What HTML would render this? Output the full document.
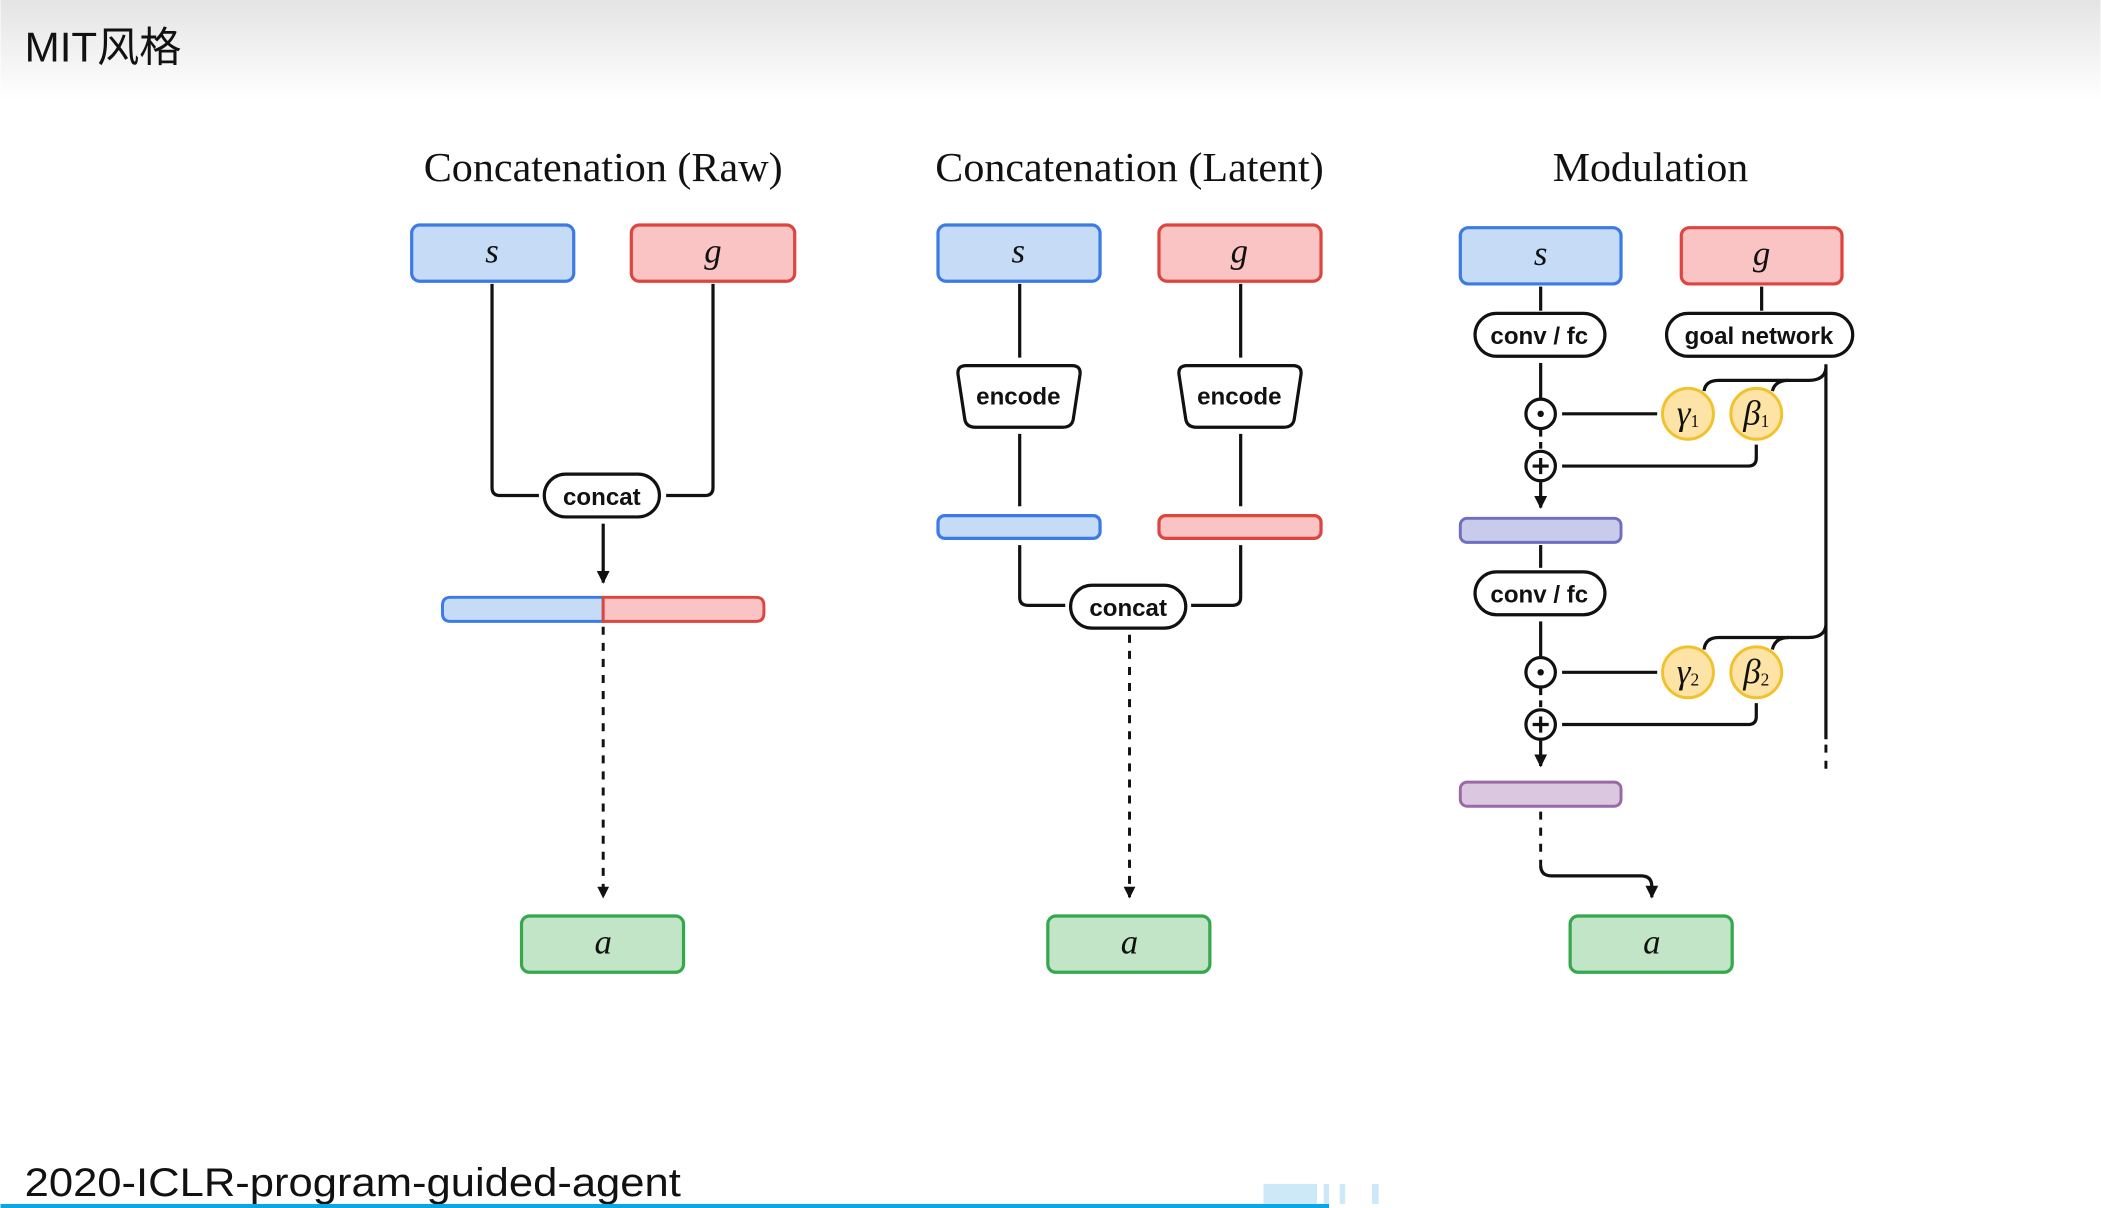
<!DOCTYPE html>
<html><head><meta charset="utf-8"><style>
html,body{margin:0;padding:0;background:#fff;width:2101px;height:1208px;overflow:hidden}
svg{display:block}
.t{font-family:"Liberation Serif",serif;font-size:31px;fill:#111;text-anchor:middle}
.v{font-family:"Liberation Serif",serif;font-style:italic;font-size:26px;fill:#111;text-anchor:middle}
.l{font-family:"Liberation Sans",sans-serif;font-size:18px;font-weight:bold;fill:#111;text-anchor:middle}
.k{fill:none;stroke:#111;stroke-width:2.4}
.d{fill:none;stroke:#111;stroke-width:2.2;stroke-dasharray:6,6}
.bs{fill:#c5dbf6;stroke:#3c7be6;stroke-width:2.4}
.rs{fill:#f9c4c3;stroke:#df453f;stroke-width:2.4}
.gs{fill:#c2e4c7;stroke:#35a84d;stroke-width:2.4}
.ys{fill:#fde3a6;stroke:#f1c22c;stroke-width:2.2}
.pill{fill:#fff;stroke:#111;stroke-width:2.4}
</style></head><body>
<svg width="2101" height="1208" viewBox="0 0 1568 902" xmlns="http://www.w3.org/2000/svg">
<defs>
<linearGradient id="hd" x1="0" y1="0" x2="0" y2="1"><stop offset="0" stop-color="#e4e4e4"/><stop offset="1" stop-color="#ffffff"/></linearGradient>
<marker id="ar" viewBox="0 0 10 10" refX="9" refY="5" markerWidth="4" markerHeight="4" orient="auto"><path d="M0,0 L10,5 L0,10z" fill="#111"/></marker>
</defs>
<rect x="0" y="0" width="1568" height="75" fill="url(#hd)"/>
<text x="18" y="46" font-family="Liberation Sans,'Noto Sans CJK SC',sans-serif" font-size="31" fill="#111" textLength="117" lengthAdjust="spacingAndGlyphs">MIT风格</text>

<text class="t" x="450" y="135" textLength="268" lengthAdjust="spacingAndGlyphs">Concatenation (Raw)</text>
<text class="t" x="843" y="135" textLength="290" lengthAdjust="spacingAndGlyphs">Concatenation (Latent)</text>
<text class="t" x="1232" y="135" textLength="146" lengthAdjust="spacingAndGlyphs">Modulation</text>

<!-- Panel 1 -->
<rect class="bs" x="307" y="168" width="121" height="42" rx="6"/><text class="v" x="367" y="196">s</text>
<rect class="rs" x="471" y="168" width="122" height="42" rx="6"/><text class="v" x="532" y="196">g</text>
<path class="k" d="M367,212 V364 Q367,370 373,370 H402"/>
<path class="k" d="M532,212 V364 Q532,370 526,370 H497"/>
<rect class="pill" x="406" y="354" width="86" height="32" rx="16"/><text class="l" x="449" y="377">concat</text>
<line class="k" x1="450" y1="391" x2="450" y2="435" marker-end="url(#ar)"/>
<path d="M336,446 H450 V464 H336 Q330,464 330,458 V452 Q330,446 336,446z" fill="#c5dbf6" stroke="#3c7be6" stroke-width="2.2"/>
<path d="M450,446 H564 Q570,446 570,452 V458 Q570,464 564,464 H450z" fill="#f9c4c3" stroke="#df453f" stroke-width="2.2"/>
<line class="d" x1="450" y1="468" x2="450" y2="670" marker-end="url(#ar)"/>
<rect class="gs" x="389" y="684" width="121" height="42" rx="6"/><text class="v" x="450" y="712">a</text>

<!-- Panel 2 -->
<rect class="bs" x="700" y="168" width="121" height="42" rx="6"/><text class="v" x="760" y="196">s</text>
<rect class="rs" x="865" y="168" width="121" height="42" rx="6"/><text class="v" x="925" y="196">g</text>
<line class="k" x1="761" y1="212" x2="761" y2="267"/>
<line class="k" x1="926" y1="212" x2="926" y2="267"/>
<path class="pill" d="M721,273 H800 Q807,273 806,280 L801,313 Q800,319 793,319 H728 Q721,319 720,313 L715,280 Q714,273 721,273z"/>
<text class="l" x="760" y="302">encode</text>
<path class="pill" d="M886,273 H965 Q972,273 971,280 L966,313 Q965,319 958,319 H893 Q886,319 885,313 L880,280 Q879,273 886,273z"/>
<text class="l" x="925" y="302">encode</text>
<line class="k" x1="761" y1="324" x2="761" y2="378"/>
<line class="k" x1="926" y1="324" x2="926" y2="378"/>
<rect class="bs" x="700" y="385" width="121" height="17" rx="5"/>
<rect class="rs" x="865" y="385" width="121" height="17" rx="5"/>
<path class="k" d="M761,407 V446 Q761,452 767,452 H795"/>
<path class="k" d="M926,407 V446 Q926,452 920,452 H889"/>
<rect class="pill" x="799" y="437" width="86" height="32" rx="16"/><text class="l" x="842" y="460">concat</text>
<line class="d" x1="843" y1="474" x2="843" y2="670" marker-end="url(#ar)"/>
<rect class="gs" x="782" y="684" width="121" height="42" rx="6"/><text class="v" x="843" y="712">a</text>

<!-- Panel 3 -->
<rect class="bs" x="1090" y="170" width="120" height="42" rx="6"/><text class="v" x="1150" y="198">s</text>
<rect class="rs" x="1255" y="170" width="120" height="42" rx="6"/><text class="v" x="1315" y="198">g</text>
<line class="k" x1="1150" y1="214" x2="1150" y2="232"/>
<line class="k" x1="1315" y1="214" x2="1315" y2="232"/>
<rect class="pill" x="1101" y="234" width="97" height="32" rx="16"/><text class="l" x="1149" y="257">conv / fc</text>
<rect class="pill" x="1244" y="234" width="139" height="32" rx="16"/><text class="l" x="1313" y="257">goal network</text>
<line class="k" x1="1150" y1="271" x2="1150" y2="297"/>
<circle class="pill" cx="1150" cy="309" r="11"/><circle cx="1150" cy="309" r="2.4" fill="#111"/>
<line class="k" x1="1166" y1="309" x2="1237" y2="309"/>
<circle class="ys" cx="1260" cy="309" r="19"/><text class="v" x="1260" y="317" font-size="20">γ<tspan font-size="13" dy="2" font-style="normal">1</tspan></text>
<circle class="ys" cx="1311" cy="309" r="19"/><text class="v" x="1311" y="317" font-size="20">β<tspan font-size="13" dy="2" font-style="normal">1</tspan></text>
<line class="k" x1="1150" y1="321" x2="1150" y2="336" stroke-dasharray="5,4"/>
<circle class="pill" cx="1150" cy="348" r="11"/><path class="k" d="M1144,348 H1156 M1150,342 V354" stroke-width="2"/>
<path class="k" d="M1166,348 H1305 Q1311,348 1311,342 V332"/>
<line class="k" x1="1150" y1="360" x2="1150" y2="379" marker-end="url(#ar)"/>
<rect x="1090" y="387" width="120" height="18" rx="5" fill="#c9cbea" stroke="#6e6fc0" stroke-width="2.2"/>
<line class="k" x1="1150" y1="407" x2="1150" y2="424"/>
<rect class="pill" x="1101" y="427" width="97" height="32" rx="16"/><text class="l" x="1149" y="450">conv / fc</text>
<line class="k" x1="1150" y1="464" x2="1150" y2="490"/>
<circle class="pill" cx="1150" cy="502" r="11"/><circle cx="1150" cy="502" r="2.4" fill="#111"/>
<line class="k" x1="1166" y1="502" x2="1237" y2="502"/>
<circle class="ys" cx="1260" cy="502" r="19"/><text class="v" x="1260" y="510" font-size="20">γ<tspan font-size="13" dy="2" font-style="normal">2</tspan></text>
<circle class="ys" cx="1311" cy="502" r="19"/><text class="v" x="1311" y="510" font-size="20">β<tspan font-size="13" dy="2" font-style="normal">2</tspan></text>
<line class="k" x1="1150" y1="514" x2="1150" y2="529" stroke-dasharray="5,4"/>
<circle class="pill" cx="1150" cy="541" r="11"/><path class="k" d="M1144,541 H1156 M1150,535 V547" stroke-width="2"/>
<path class="k" d="M1166,541 H1305 Q1311,541 1311,535 V525"/>
<line class="k" x1="1150" y1="553" x2="1150" y2="572" marker-end="url(#ar)"/>
<rect x="1090" y="584" width="120" height="18" rx="5" fill="#dcc7e0" stroke="#9a69a6" stroke-width="2.2"/>
<line class="d" x1="1150" y1="606" x2="1150" y2="646"/>
<path class="k" d="M1150,646 Q1150,654 1158,654 H1225 Q1233,654 1233,662 V670" marker-end="url(#ar)"/>
<rect class="gs" x="1172" y="684" width="121" height="42" rx="6"/><text class="v" x="1233" y="712">a</text>
<line class="k" x1="1363" y1="272" x2="1363" y2="552"/>
<line class="d" x1="1363" y1="556" x2="1363" y2="580"/>
<path class="k" d="M1363,275 Q1362,284 1350,284 H1283 Q1273,284 1272,292"/>
<path class="k" d="M1335,284 Q1325,284 1323,292"/>
<path class="k" d="M1363,467 Q1362,476 1350,476 H1283 Q1273,476 1272,485"/>
<path class="k" d="M1335,476 Q1325,476 1323,485"/>

<text x="18" y="893" font-family="Liberation Sans,sans-serif" font-size="30" fill="#111" textLength="490" lengthAdjust="spacingAndGlyphs">2020-ICLR-program-guided-agent</text>
<rect x="0" y="899" width="992" height="3" fill="#0aa7e6"/>
<rect x="943" y="884" width="40" height="15" fill="#cde9f7"/>
<rect x="988" y="884" width="4" height="15" fill="#cde9f7"/>
<rect x="1000" y="884" width="4" height="15" fill="#cde9f7"/>
<rect x="1024" y="884" width="5" height="15" fill="#cde9f7"/>
</svg>
</body></html>
